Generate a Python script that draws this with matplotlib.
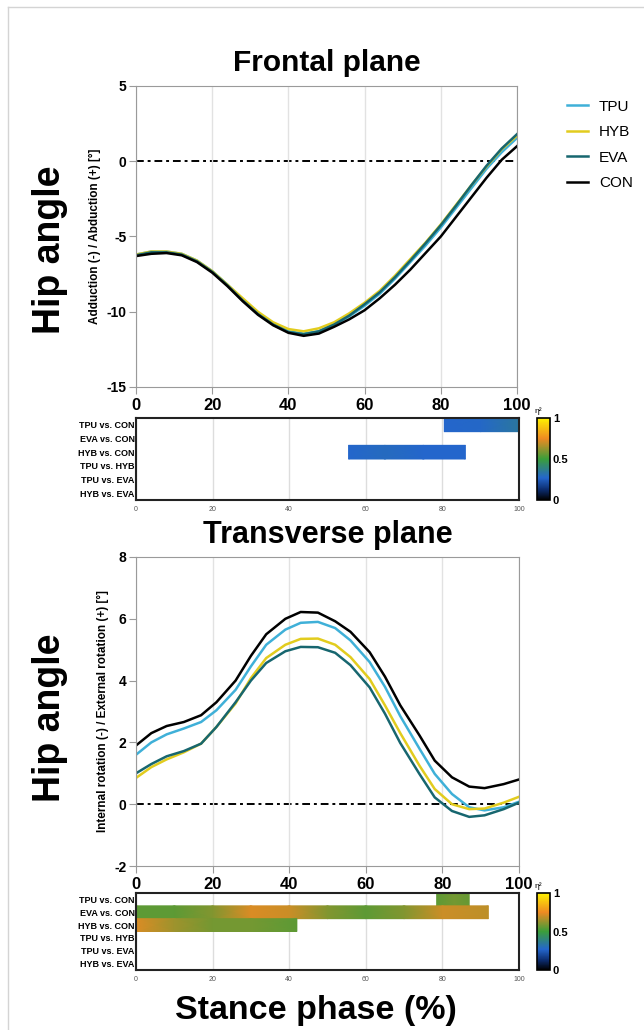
import numpy as np
import matplotlib
matplotlib.use('Agg')
import matplotlib.pyplot as plt
from matplotlib.colors import LinearSegmentedColormap, Normalize
from matplotlib.lines import Line2D
import matplotlib.cm as cm

plt.rcParams['font.family'] = ['Liberation Sans', 'DejaVu Sans']
plt.rcParams['font.weight'] = 'bold'
plt.rcParams['axes.unicode_minus'] = False

# stance phase (%) sample points
frontal_x = [0, 4, 8, 12, 16, 20, 24, 28, 32, 36, 40, 44, 48, 52, 56, 60, 64, 68, 72, 76, 80, 84, 88, 92, 96, 100]
frontal_tpu = [-6.2, -6.0, -6.0, -6.15, -6.6, -7.3, -8.2, -9.2, -10.1, -10.8, -11.3, -11.45, -11.3, -10.85, -10.3, -9.6, -8.8, -7.8, -6.7, -5.6, -4.4, -3.1, -1.8, -0.5, 0.6, 1.55]
frontal_hyb = [-6.2, -6.0, -6.0, -6.15, -6.6, -7.3, -8.2, -9.1, -10.0, -10.7, -11.15, -11.3, -11.1, -10.7, -10.1, -9.4, -8.6, -7.6, -6.5, -5.4, -4.2, -2.9, -1.6, -0.35, 0.8, 1.7]
frontal_eva = [-6.25, -6.05, -6.05, -6.2, -6.65, -7.35, -8.25, -9.25, -10.15, -10.85, -11.35, -11.5, -11.3, -10.85, -10.25, -9.5, -8.7, -7.7, -6.6, -5.45, -4.25, -2.95, -1.6, -0.3, 0.85, 1.8]
frontal_con = [-6.3, -6.15, -6.1, -6.25, -6.7, -7.4, -8.3, -9.3, -10.2, -10.9, -11.4, -11.6, -11.45, -11.0, -10.5, -9.9, -9.1, -8.2, -7.2, -6.1, -5.0, -3.7, -2.4, -1.1, 0.1, 1.0]

trans_x = [0, 4, 8, 12.5, 17, 21, 26, 30, 34, 39, 43, 47.5, 52, 56, 61, 65, 69, 74, 78, 82.5, 87, 91, 96, 100]
trans_tpu = [1.6, 2.0, 2.26, 2.45, 2.66, 3.04, 3.7, 4.46, 5.16, 5.65, 5.87, 5.9, 5.7, 5.3, 4.6, 3.8, 2.85, 1.8, 0.98, 0.33, -0.1, -0.2, -0.1, 0.08]
trans_hyb = [0.85, 1.2, 1.45, 1.68, 1.96, 2.5, 3.26, 4.08, 4.73, 5.16, 5.35, 5.36, 5.16, 4.76, 4.05, 3.2, 2.3, 1.25, 0.49, 0.0, -0.16, -0.14, 0.05, 0.24]
trans_eva = [1.0, 1.3, 1.55, 1.72, 1.96, 2.5, 3.3, 4.0, 4.57, 4.95, 5.09, 5.08, 4.9, 4.5, 3.78, 2.93, 1.98, 0.98, 0.22, -0.22, -0.41, -0.36, -0.16, 0.05]
trans_con = [1.9, 2.3, 2.53, 2.66, 2.88, 3.3, 4.0, 4.8, 5.5, 6.0, 6.22, 6.2, 5.92, 5.58, 4.92, 4.13, 3.2, 2.23, 1.41, 0.87, 0.57, 0.52, 0.65, 0.8]

groups = ['TPU', 'HYB', 'EVA', 'CON']
group_colors = ['#3fb0d8', '#e2cc1e', '#17666f', '#000000']

comparisons = ['TPU vs. CON', 'EVA vs. CON', 'HYB vs. CON', 'TPU vs. HYB', 'TPU vs. EVA', 'HYB vs. EVA']

# significant clusters: (row index, x nodes, eta squared at nodes)
frontal_sig = [
    (0, [80.5, 90, 100], [0.27, 0.28, 0.34]),
    (2, [55.5, 65, 75, 86], [0.27, 0.29, 0.27, 0.27]),
]
trans_sig = [
    (0, [78.5, 83, 87], [0.55, 0.58, 0.56]),
    (1, [0, 10, 20, 30, 40, 50, 60, 70, 80, 92], [0.55, 0.55, 0.6, 0.72, 0.7, 0.6, 0.55, 0.6, 0.7, 0.68]),
    (2, [0, 10, 20, 30, 42], [0.72, 0.64, 0.58, 0.58, 0.55]),
]

eta_cmap = LinearSegmentedColormap.from_list('eta', [
    (0.0, '#000000'), (0.12, '#0b2a6a'), (0.27, '#2466cc'),
    (0.5, '#3a9e3a'), (0.75, '#ee8a22'), (1.0, '#fff200')])

W, H = 644, 1030
fig = plt.figure(figsize=(W / 100, H / 100), dpi=100)


def box(l, t, r, b):
    return [l / W, 1 - b / H, (r - l) / W, (b - t) / H]


def main_panel(rect, xs, series, ylim, yticks, ylabel):
    ax = fig.add_axes(rect)
    for ys, c in zip(series, group_colors):
        ax.plot(xs, ys, color=c, lw=1.8, solid_joinstyle='round')
    ax.axhline(0, color='black', lw=1.4, ls=(0, (4, 2, 1.5, 2)), zorder=1)
    ax.set_xlim(0, 100)
    ax.set_ylim(*ylim)
    ax.set_yticks(yticks)
    ax.set_xticks([0, 20, 40, 60, 80, 100])
    ax.grid(axis='x', color='#e2e2e2', lw=1)
    for s in ax.spines.values():
        s.set_color('#9a9a9a')
    ax.tick_params(axis='x', labelsize=12, colors='#9a9a9a', labelcolor='black', length=5, pad=3)
    ax.tick_params(axis='y', labelsize=10, colors='#9a9a9a', labelcolor='black', length=5, pad=2)
    ax.set_ylabel(ylabel, fontsize=8.5, fontweight='bold', labelpad=4)
    return ax


def sig_panel(rect, cbrect, sig):
    ax = fig.add_axes(rect)
    for row, xn, eta in sig:
        X = np.array([xn, xn])
        Y = np.array([[row - 0.5] * len(xn), [row + 0.5] * len(xn)])
        C = np.array([eta, eta])
        ax.pcolormesh(X, Y, C, shading='gouraud', cmap=eta_cmap, vmin=0, vmax=1, zorder=2)
    ax.set_xlim(0, 100)
    ax.set_ylim(5.5, -0.5)
    ax.set_xticks([0, 20, 40, 60, 80, 100])
    ax.set_yticks(range(len(comparisons)))
    ax.set_yticklabels(comparisons)
    ax.grid(axis='x', color='#dddddd', lw=1, zorder=0)
    ax.set_axisbelow(True)
    for s in ax.spines.values():
        s.set_color('#222222')
        s.set_linewidth(1.5)
        s.set_zorder(3)
    ax.tick_params(axis='y', length=0, pad=1, labelsize=6.5)
    ax.tick_params(axis='x', length=0, pad=4, labelsize=5, labelcolor='#555555')
    for t in ax.get_xticklabels():
        t.set_fontweight('normal')

    cax = fig.add_axes(cbrect)
    cb = fig.colorbar(cm.ScalarMappable(norm=Normalize(0, 1), cmap=eta_cmap), cax=cax)
    cb.set_ticks([0, 0.5, 1])
    cb.set_ticklabels(['0', '0.5', '1'])
    cb.outline.set_linewidth(1.2)
    cax.tick_params(length=0, labelsize=8, pad=2)
    cax.text(-0.2, 1.04, 'η²', transform=cax.transAxes, fontsize=6, ha='left', va='bottom',
             fontweight='normal')
    return ax


ax1 = main_panel(box(136, 86, 517, 387), frontal_x,
                 [frontal_tpu, frontal_hyb, frontal_eva, frontal_con],
                 (-15, 5), [-15, -10, -5, 0, 5], 'Adduction (-) / Abduction (+) [°]')
ax1.set_title('Frontal plane', fontsize=21.5, fontweight='bold', pad=11)
sig_panel(box(136, 418, 519, 500), box(537, 418, 550, 500), frontal_sig)

ax2 = main_panel(box(136, 557, 519, 866), trans_x,
                 [trans_tpu, trans_hyb, trans_eva, trans_con],
                 (-2, 8), [-2, 0, 2, 4, 6, 8], 'Internal rotation (-) / External rotation (+) [°]')
ax2.set_title('Transverse plane', fontsize=22, fontweight='bold', pad=10)
sig_panel(box(136, 893, 519, 970), box(537, 893, 550, 970), trans_sig)

fig.text(50 / W, 1 - 250 / H, 'Hip angle', rotation=90, fontsize=27, fontweight='bold',
         ha='center', va='center')
fig.text(50 / W, 1 - 718 / H, 'Hip angle', rotation=90, fontsize=27, fontweight='bold',
         ha='center', va='center')
fig.text(316 / W, 1 - 1010 / H, 'Stance phase (%)', fontsize=24.5, fontweight='bold',
         ha='center', va='center')

handles = [Line2D([], [], color=c, lw=1.8) for c in group_colors]
leg = fig.legend(handles, groups, loc='upper left', bbox_to_anchor=(553 / W, 1 - 86 / H),
                 frameon=False, fontsize=11, handlelength=1.4, handletextpad=0.7,
                 labelspacing=0.75)
for t in leg.get_texts():
    t.set_fontweight('normal')

# light frame round the figure
fig.add_artist(Line2D([8 / W, 8 / W], [0, 1 - 7 / H], color='#d4d4d4', lw=1))
fig.add_artist(Line2D([8 / W, 1], [1 - 7 / H, 1 - 7 / H], color='#d4d4d4', lw=1))

fig.savefig('out.png', dpi=100)
